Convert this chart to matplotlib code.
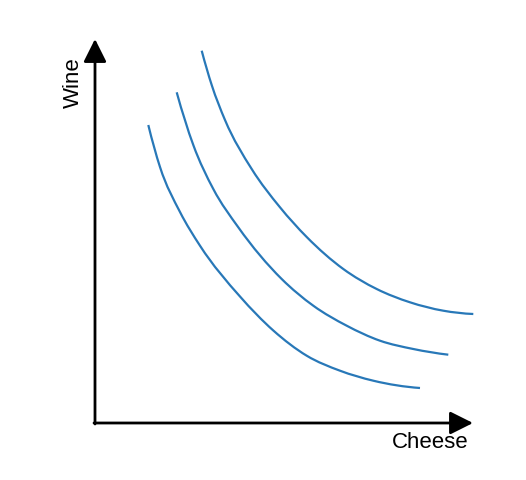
import matplotlib
matplotlib.use("Agg")
import matplotlib.pyplot as plt
from matplotlib.path import Path
from matplotlib.patches import PathPatch

# Indifference curves (cheese, wine); origin at the axes corner
curve1_x = [53.3, 65, 85, 105, 145, 178.3, 211.7, 245, 278.3, 325]
curve1_y = [298, 256, 211, 177.3, 126.5, 92.5, 67.3, 52.3, 42.3, 35]

curve2_x = [81.7, 98.3, 118.3, 143.3, 186.7, 218.3, 251.7, 285, 318.3, 353.3]
curve2_y = [330.7, 278, 234, 195.7, 144, 117.3, 97.3, 82.3, 74, 68.3]

curve3_x = [106.7, 116.7, 130, 156.7, 185, 211.7, 248.3, 281.7, 315, 348.3, 378.3]
curve3_y = [372.3, 338, 303, 254, 215.7, 186, 154, 134, 120.7, 112.3, 109]

x_label = "Cheese"
y_label = "Wine"

plt.rcParams['font.family'] = ['Liberation Sans', 'DejaVu Sans']

fig = plt.figure(figsize=(5.26, 4.81), dpi=100)
ax = fig.add_axes([0, 0, 1, 1])
ax.set_xlim(-95, 431)
ax.set_ylim(-57, 424)
ax.axis('off')


def smooth_path(xs, ys):
    """Smooth curve through the points (cubic Hermite in x, drawn as Bezier segments)."""
    n = len(xs)
    h = [xs[i + 1] - xs[i] for i in range(n - 1)]
    s = [(ys[i + 1] - ys[i]) / h[i] for i in range(n - 1)]
    m = [0.0] * n
    for i in range(1, n - 1):
        m[i] = (s[i - 1] * h[i] + s[i] * h[i - 1]) / (h[i - 1] + h[i])
    m[0] = 2 * s[0] - m[1] if n > 2 else s[0]
    m[-1] = 2 * s[-1] - m[-2] if n > 2 else s[-1]
    verts = [(xs[0], ys[0])]
    codes = [Path.MOVETO]
    for i in range(n - 1):
        d = h[i] / 3
        verts += [(xs[i] + d, ys[i] + d * m[i]),
                  (xs[i + 1] - d, ys[i + 1] - d * m[i + 1]),
                  (xs[i + 1], ys[i + 1])]
        codes += [Path.CURVE4] * 3
    return Path(verts, codes)


color = '#2878b8'
for xs, ys in [(curve1_x, curve1_y), (curve2_x, curve2_y), (curve3_x, curve3_y)]:
    ax.add_patch(PathPatch(smooth_path(xs, ys), fill=False, edgecolor=color, lw=1.6,
                           capstyle='butt', joinstyle='round'))

arrow = dict(arrowstyle='-|>,head_length=0.7,head_width=0.35', lw=2, color='black',
             mutation_scale=20, shrinkA=0, shrinkB=0)
ax.annotate('', xy=(378, 0), xytext=(-1, 0), arrowprops=arrow)
ax.annotate('', xy=(0, 384), xytext=(0, -1), arrowprops=arrow)

ax.text(335, -19, x_label, fontsize=16, ha='center', va='center')
ax.text(-22, 341, y_label, fontsize=16, ha='center', va='center', rotation=90)

fig.savefig('out.png', dpi=100)
